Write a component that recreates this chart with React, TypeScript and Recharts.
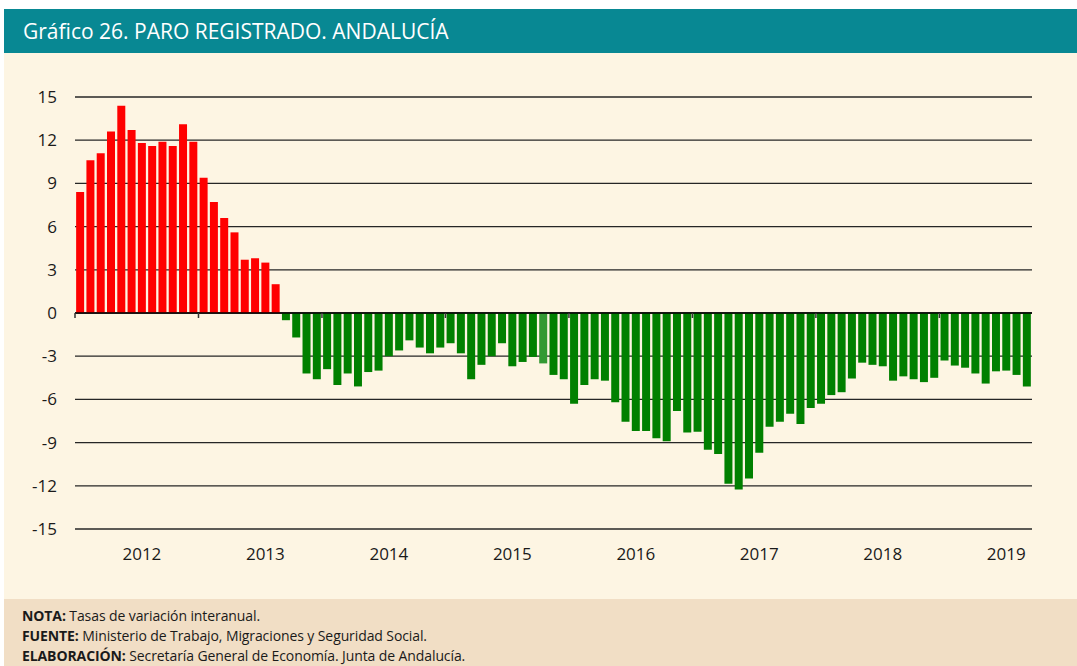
import React from 'react';
import { BarChart, Bar, XAxis, YAxis, CartesianGrid, ReferenceLine, Cell } from 'recharts';

// Paro registrado, Andalucía: tasas de variación interanual, ene 2012 - sep 2019
const years = [2012, 2013, 2014, 2015, 2016, 2017, 2018, 2019];
const monthsPerYear = [12, 12, 12, 12, 12, 12, 12, 9];

const values2012 = [8.4, 10.6, 11.1, 12.6, 14.4, 12.7, 11.8, 11.6, 11.9, 11.6, 13.1, 11.9];
const values2013 = [9.4, 7.7, 6.6, 5.6, 3.7, 3.8, 3.5, 2.0, -0.5, -1.7, -4.2, -4.6];
const values2014 = [-3.9, -5.0, -4.2, -5.1, -4.1, -4.0, -3.0, -2.6, -1.9, -2.4, -2.8, -2.4];
const values2015 = [-2.1, -2.8, -4.6, -3.6, -3.0, -2.1, -3.7, -3.4, -3.05, -3.5, -4.3, -4.6];
const values2016 = [-6.3, -5.0, -4.6, -4.7, -6.2, -7.55, -8.2, -8.2, -8.7, -8.9, -6.8, -8.3];
const values2017 = [-8.25, -9.5, -9.8, -11.85, -12.25, -11.5, -9.7, -7.9, -7.55, -7.0, -7.7, -6.6];
const values2018 = [-6.3, -5.7, -5.5, -4.55, -3.45, -3.6, -3.7, -4.7, -4.4, -4.6, -4.8, -4.5];
const values2019 = [-3.3, -3.65, -3.8, -4.2, -4.9, -4.05, -4.0, -4.3, -5.1];

// one month drawn in a lighter green in the original (oct 2015)
const highlightedMonth = '2015-10';

const yTicks = [-15, -12, -9, -6, -3, 0, 3, 6, 9, 12, 15];

const allValues = [values2012, values2013, values2014, values2015, values2016, values2017, values2018, values2019];

const data = years.flatMap((yr, yi) =>
  allValues[yi].slice(0, monthsPerYear[yi]).map((v, m) => ({
    month: `${yr}-${String(m + 1).padStart(2, '0')}`,
    value: v,
  }))
);

const yearStarts = years.map((yr) => `${yr}-01`);

const W = 1077;
const H = 666;
const M = { top: 97, right: 45, bottom: 107, left: 15 };
const Y_AXIS_W = 60;
const X_AXIS_H = 30;
const PLOT_W = W - M.left - M.right - Y_AXIS_W;
const PLOT_H = H - M.top - M.bottom - X_AXIS_H;
const ZERO_Y = M.top + PLOT_H / 2;
const BAND = PLOT_W / data.length;

const chartFont = '"Open Sans", sans-serif';

function YearTick(props: any) {
  const { x, y, payload } = props;
  const [yr, m] = String(payload.value).split('-');
  return (
    <g>
      {m === '07' && (
        <text x={x} y={y} dy="0.71em" textAnchor="middle" fill="#1a1a1a" fontSize={17} fontFamily={chartFont}>
          {yr}
        </text>
      )}
      {yearStarts.includes(payload.value) && (
        <line x1={x - BAND / 2} x2={x - BAND / 2} y1={ZERO_Y} y2={ZERO_Y + 5} stroke="#333" strokeWidth={1.5} />
      )}
    </g>
  );
}

export default function App() {
  return (
    <div style={{ position: 'fixed', left: 0, top: 0, width: W, height: H, background: '#fff', overflow: 'hidden' }}>
      <div
        style={{
          position: 'absolute', left: 4, top: 9, width: W - 4, height: 44, background: '#088893',
          color: '#fff', fontFamily: '"Open Sans", sans-serif', fontSize: 21, lineHeight: '44px', paddingLeft: 19,
          boxSizing: 'border-box',
        }}
      >
        Gráfico 26. PARO REGISTRADO. ANDALUCÍA
      </div>
      <div style={{ position: 'absolute', left: 4, top: 53, width: W - 4, height: 546, background: '#fdf5e3' }} />
      <div
        style={{
          position: 'absolute', left: 4, top: 599, width: W - 4, height: 67, background: '#f1dec5',
          fontFamily: '"Open Sans", sans-serif', fontSize: 14, color: '#1a1a1a', padding: '7px 0 0 18px',
          boxSizing: 'border-box', lineHeight: '20px', letterSpacing: -0.1,
        }}
      >
        <div><b>NOTA:</b> Tasas de variación interanual.</div>
        <div><b>FUENTE:</b> Ministerio de Trabajo, Migraciones y Seguridad Social.</div>
        <div><b>ELABORACIÓN:</b> Secretaría General de Economía. Junta de Andalucía.</div>
      </div>
      <div style={{ position: 'absolute', left: 0, top: 0 }}>
        <BarChart width={W} height={H} data={data} margin={M} barCategoryGap="11%">
          <CartesianGrid vertical={false} stroke="#262626" strokeWidth={1.3} />
          <XAxis
            dataKey="month"
            height={X_AXIS_H}
            axisLine={false}
            tickLine={false}
            interval={0}
            tickSize={0}
            tickMargin={19}
            tick={<YearTick />}
          />
          <YAxis
            width={Y_AXIS_W}
            domain={[-15, 15]}
            ticks={yTicks}
            axisLine={false}
            tickLine={false}
            tickSize={0}
            tickMargin={18}
            tick={{ fill: '#1a1a1a', fontSize: 17, fontFamily: chartFont }}
          />
          <ReferenceLine y={0} stroke="#000" strokeWidth={1.6} />
          <Bar dataKey="value" isAnimationActive={false}>
            {data.map((d) => (
              <Cell
                key={d.month}
                fill={d.month === highlightedMonth ? '#339933' : d.value > 0 ? '#ff0000' : '#008000'}
              />
            ))}
          </Bar>
        </BarChart>
      </div>
    </div>
  );
}
